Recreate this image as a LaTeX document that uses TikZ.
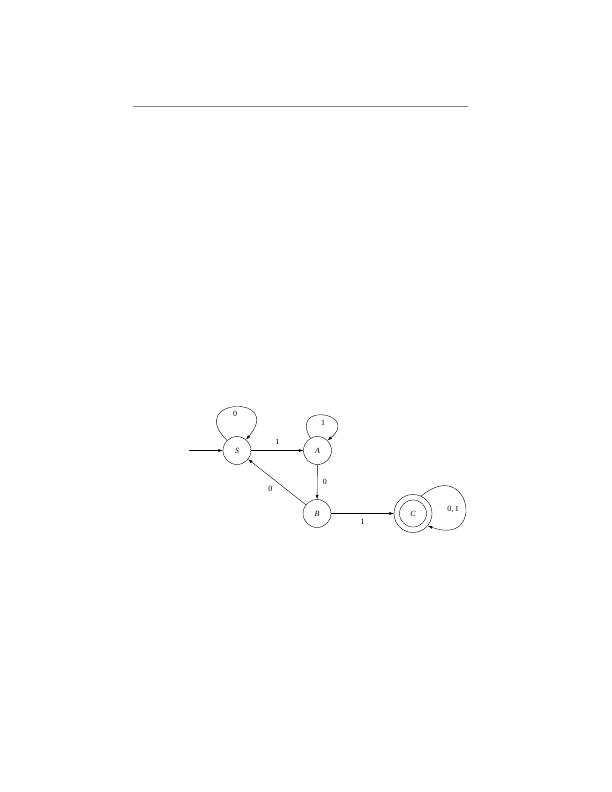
\documentclass[tikz,border=0pt]{standalone}
\usepackage{fontspec}
\setmainfont{Liberation Serif}
\usetikzlibrary{arrows.meta}

\begin{document}
\begin{tikzpicture}[x=1pt,y=-1pt,line width=0.4pt,
    font=\fontsize{8}{9}\selectfont,
    state/.style={draw,circle,inner sep=0pt,minimum size=28pt,font=\fontsize{8}{9}\selectfont\itshape},
    arc/.style={-{Latex[length=4.5pt,width=3pt]}}]
  \useasboundingbox (0,0) rectangle (612,792);
  \draw[gray,line width=0.7pt] (133,106) -- (468,106);
  % States
  \node[state] (S) at (237,450.5) {S};
  \node[state] (A) at (317.5,450.5) {A};
  \node[state] (B) at (317,513.5) {B};
  \node[state,minimum size=38pt] (C) at (413,513.5) {C};
  \draw (C.center) circle (13.5pt);
  \coordinate (start) at (189,450.5);
  % Transitions
  \draw[arc] (start) -- (S);
  \draw[arc] (S.135) to[out=135,in=50,looseness=8] node[below=1pt]{0} (S.50);
  \draw[arc] (S) -- node[above=2pt]{1} (A);
  \draw[arc] (A.120) to[out=120,in=40,looseness=6.3] node[below=1pt]{1} (A.45);
  \draw[arc] (A) -- node[right=2pt]{0} (B);
  \draw[arc] (B) -- node[below left=1pt]{0} (S);
  \draw[arc] (B) -- node[below=2pt]{1} (C);
  \draw[arc] (C.65) to[out=40,in=-20,looseness=5.3] node[pos=.56,left=3pt]{0,\,1} (C.-40);
\end{tikzpicture}
\end{document}
